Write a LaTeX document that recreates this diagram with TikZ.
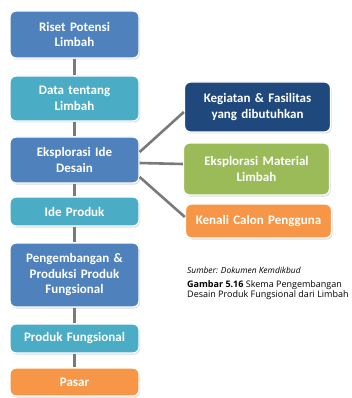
\documentclass[tikz,border=0pt]{standalone}
\usepackage{fontspec}
\setmainfont{Carlito}
\newfontfamily\capfont{Open Sans}
\usetikzlibrary{shadows}
\definecolor{kotakbiru}{HTML}{4F81BD}
\definecolor{kotaktosca}{HTML}{4BACC6}
\definecolor{kotakoranye}{HTML}{F79646}
\definecolor{kotaktua}{HTML}{1F497D}
\definecolor{kotakhijau}{HTML}{9BBB59}
\definecolor{garis}{HTML}{7A7A7A}
\begin{document}
\begin{tikzpicture}[x=1pt,y=-1pt,
    kotak/.style={rectangle,rounded corners=6pt,draw=white,line width=1.3pt,
        text=white,font=\fontsize{13}{15.5}\selectfont\bfseries,align=center,
        inner sep=2pt,
        drop shadow={opacity=0.3,shadow xshift=1pt,shadow yshift=-1.5pt}},
    kiri/.style={kotak,minimum width=129pt,text width=124pt},
    kanan/.style={kotak,minimum width=146pt,text width=142pt},
    hubung/.style={draw=garis,line width=2.6pt}]
    \useasboundingbox (0,0) rectangle (351,398);
    % kolom kiri
    \node[kiri,fill=kotakbiru,minimum height=47pt] (riset) at (74.5,34.5) {Riset Potensi\\Limbah};
    \node[kiri,fill=kotaktosca,minimum height=45pt] (data) at (74.5,98.5) {Data tentang\\Limbah};
    \node[kiri,fill=kotakbiru,minimum height=46pt] (ide) at (74.5,160) {Eksplorasi Ide\\Desain};
    \node[kiri,fill=kotaktosca,minimum height=29pt] (produk) at (74.5,211.5) {Ide Produk};
    \node[kiri,fill=kotakbiru,minimum height=64pt] (kembang) at (74.5,275) {Pengembangan \&\\Produksi Produk\\Fungsional};
    \node[kiri,fill=kotaktosca,minimum height=29pt] (fungsional) at (74.5,338.5) {Produk Fungsional};
    \node[kiri,fill=kotakoranye,minimum height=28pt] (pasar) at (74.5,382) {Pasar};
    % kolom kanan
    \node[kanan,fill=kotaktua,minimum height=50pt] (kegiatan) at (257.5,107) {Kegiatan \& Fasilitas\\yang dibutuhkan};
    \node[kanan,fill=kotakhijau,minimum height=52pt] (material) at (256.5,169) {Eksplorasi Material\\Limbah};
    \node[kanan,fill=kotakoranye,minimum height=34pt] (pengguna) at (258.5,221) {Kenali Calon Pengguna};
    % garis penghubung
    \draw[hubung] (riset) -- (data);
    \draw[hubung] (data) -- (ide);
    \draw[hubung] (ide) -- (produk);
    \draw[hubung] (produk) -- (kembang);
    \draw[hubung] (kembang) -- (fungsional);
    \draw[hubung] (fungsional) -- (pasar);
    \draw[hubung] ([yshift=8pt]ide.east) -- ([yshift=-5pt]kegiatan.west);
    \draw[hubung] ([yshift=-3pt]ide.east) -- ([yshift=5pt]material.west);
    \draw[hubung] ([yshift=-17pt]ide.east) -- ([yshift=4pt]pengguna.west);
    % keterangan
    \node[anchor=base west,inner sep=0pt,font=\capfont\fontsize{8.4}{10}\selectfont\itshape] (sumber) at (187,273) {Sumber: Dokumen Kemdikbud};
    \node[anchor=base west,inner sep=0pt,align=left,font=\capfont\fontsize{9}{10.3}\selectfont] (judul) at (187,297.5) {\textbf{Gambar 5.16} Skema Pengembangan\\Desain Produk Fungsional dari Limbah};
\end{tikzpicture}
\end{document}
